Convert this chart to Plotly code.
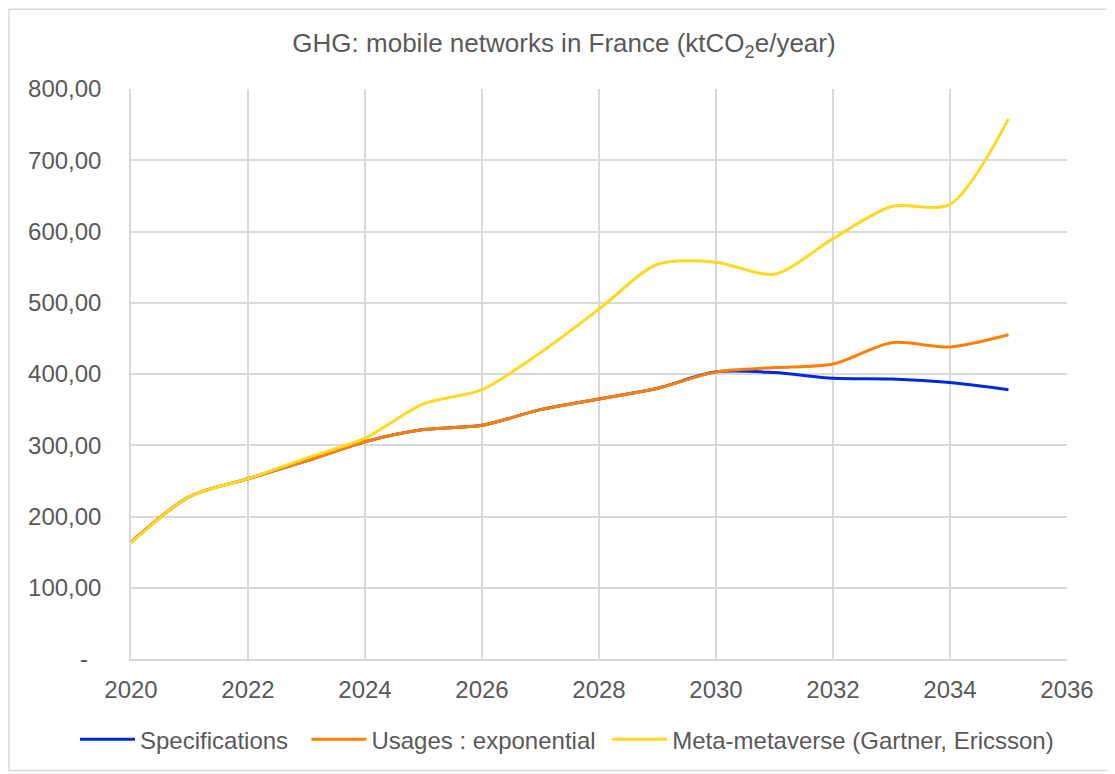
import plotly.graph_objects as go

years = list(range(2020, 2036))
specifications = [164, 228, 253, 278, 305, 322, 328, 350, 365, 380, 403, 402, 394, 393, 388, 378]
usages_exp = [164, 228, 253, 278, 305, 322, 328, 350, 365, 380, 403, 409, 414, 444, 438, 455]
meta_metaverse = [163, 228, 253, 282, 310, 358, 378, 430, 491, 554, 557, 540, 590, 635, 638, 758]

y_ticks = [0, 100, 200, 300, 400, 500, 600, 700, 800]
y_labels = ["-\u00a0\u00a0", "100,00", "200,00", "300,00", "400,00", "500,00", "600,00", "700,00", "800,00"]

grey = "#595959"
font = "Liberation Sans, Arial, sans-serif"

# page body has an 8px margin, so the figure is a bit smaller than the window
W, H = 1107, 766
L, R, T, B = 123, 48, 81, 113
pw, ph = W - L - R, H - T - B

fig = go.Figure()
fig.add_scatter(x=years, y=specifications, mode="lines", name="Specifications\u00a0\u00a0",
                line=dict(color="#0029DB", width=3, shape="spline", smoothing=0.8))
fig.add_scatter(x=years, y=usages_exp, mode="lines", name="Usages : exponential\u00a0",
                line=dict(color="#FF8000", width=3, shape="spline", smoothing=0.8))
fig.add_scatter(x=years, y=meta_metaverse, mode="lines", name="Meta-metaverse (Gartner, Ericsson)",
                line=dict(color="#FFD81F", width=3, shape="spline", smoothing=0.8))

# light frame round the whole chart area
fig.add_shape(type="rect", xref="paper", yref="paper",
              x0=(1 - L) / pw, x1=(W - 2 - L) / pw,
              y0=(T + ph - (H - 1)) / ph, y1=(T + ph - 1) / ph,
              line=dict(color="#D9D9D9", width=1.5), layer="below")

fig.update_layout(
    width=W, height=H,
    margin=dict(l=L, r=R, t=T, b=B),
    paper_bgcolor="white", plot_bgcolor="white",
    font=dict(family=font, color=grey, size=24),
    title=dict(text="GHG: mobile networks in France (ktCO<sub>2</sub>e/year)",
               x=(564 - 8 - L) / pw, xref="paper", xanchor="center",
               y=1 - (43 - 8) / H, yanchor="middle",
               font=dict(size=26, color=grey)),
    legend=dict(orientation="h", x=(75 - 8 - L) / pw, xanchor="left",
                y=(T + ph - (742 - 8)) / ph, yanchor="middle",
                font=dict(size=24, color=grey), itemwidth=55, tracegroupgap=0),
    showlegend=True,
)
fig.update_xaxes(range=[2020, 2036], dtick=2, tick0=2020, showgrid=True,
                 gridcolor="#D9D9D9", gridwidth=1.5, zeroline=False,
                 showline=True, linecolor="#D9D9D9", linewidth=1.5, mirror=False,
                 ticks="", ticklabelstandoff=8, tickfont=dict(size=24, color=grey))
fig.update_yaxes(range=[0, 800], tickvals=y_ticks, ticktext=y_labels, showgrid=True,
                 gridcolor="#D9D9D9", gridwidth=1.5, zeroline=False,
                 showline=True, linecolor="#D9D9D9", linewidth=1.5,
                 ticks="", ticklabelstandoff=23, tickfont=dict(size=24, color=grey))

fig.write_html("out.html")
